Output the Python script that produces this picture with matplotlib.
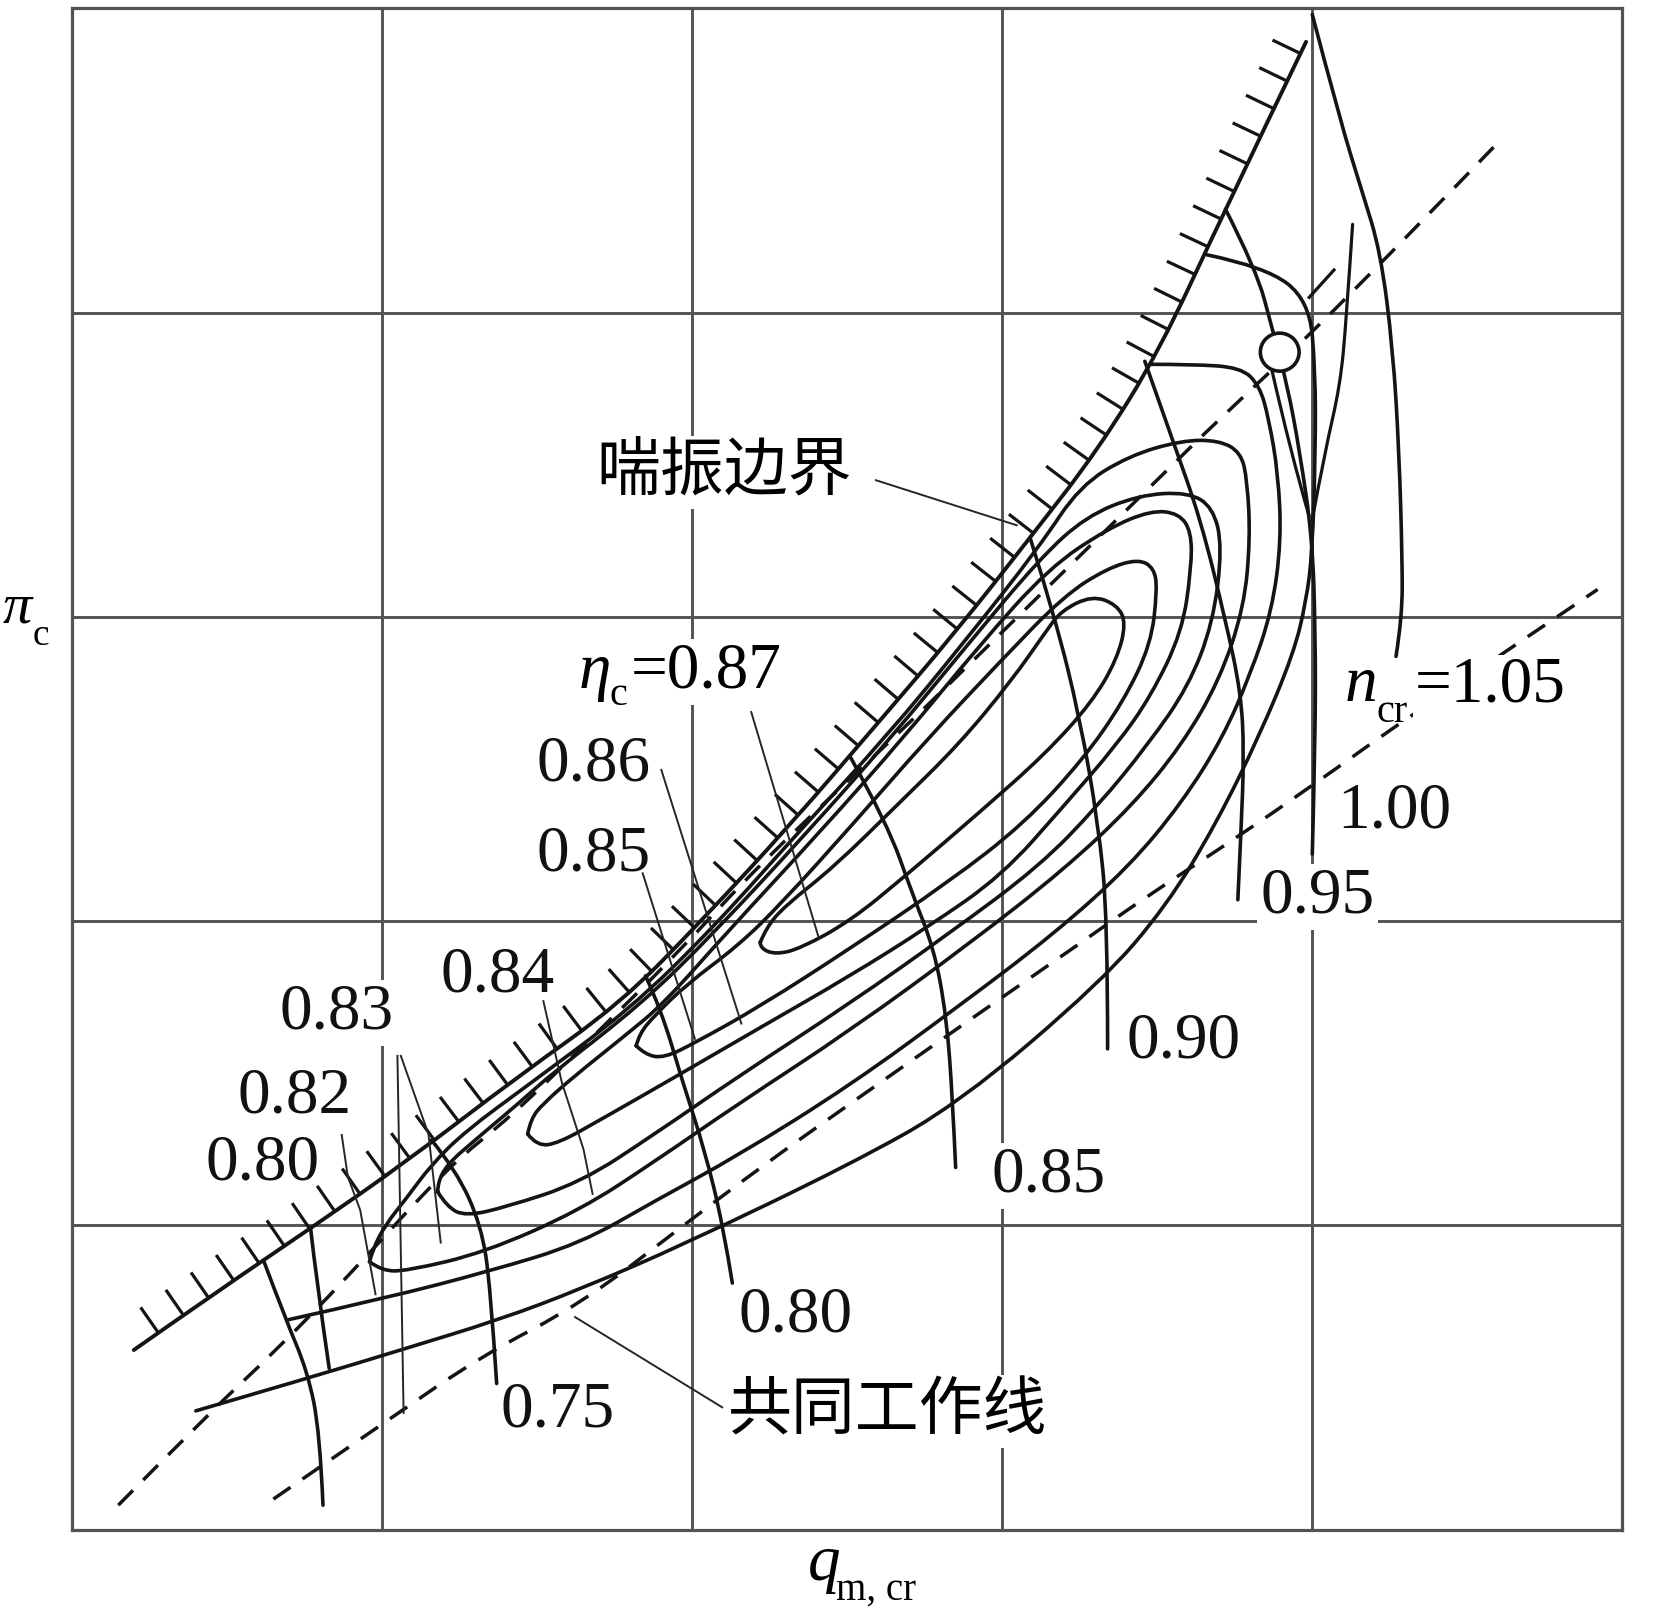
import numpy as np
import matplotlib
matplotlib.use("Agg")
import matplotlib.pyplot as plt
from matplotlib.path import Path
from matplotlib.patches import PathPatch, Ellipse
from matplotlib.collections import LineCollection

plt.rcParams["font.family"] = ["Liberation Serif", "DejaVu Serif"]

# positions are in grid cells: the map is a 5 x 5 grid with no numeric scale
surge_x = [0.20, 0.48, 0.77, 1.08, 1.44, 1.77, 2.03, 2.32, 2.59, 2.85, 3.09, 3.31, 3.51, 3.71, 3.98]
surge_y = [0.59, 0.79, 0.99, 1.21, 1.49, 1.73, 2.00, 2.32, 2.64, 2.95, 3.26, 3.55, 3.88, 4.32, 4.89]

# speed lines n_cr
low1_x = [0.62, 0.69, 0.76, 0.80, 0.81]
low1_y = [0.88, 0.69, 0.52, 0.32, 0.08]
low2_x = [0.77, 0.79, 0.83]
low2_y = [0.99, 0.81, 0.53]
n075_x = [1.16, 1.24, 1.32, 1.35, 1.37]
n075_y = [1.28, 1.18, 1.00, 0.80, 0.48]
n080_x = [1.85, 1.90, 1.97, 2.04, 2.10, 2.13]
n080_y = [1.82, 1.71, 1.47, 1.25, 1.00, 0.81]
n085_x = [2.51, 2.63, 2.71, 2.78, 2.82, 2.84, 2.85]
n085_y = [2.54, 2.32, 2.09, 1.91, 1.69, 1.42, 1.19]
n090_x = [3.09, 3.17, 3.25, 3.31, 3.34, 3.34]
n090_y = [3.26, 3.00, 2.67, 2.32, 2.01, 1.58]
n095_x = [3.46, 3.55, 3.64, 3.72, 3.77, 3.78, 3.77, 3.76]
n095_y = [3.84, 3.58, 3.32, 2.99, 2.75, 2.55, 2.29, 2.07]
n100_x = [3.72, 3.82, 3.87, 3.92, 3.96, 4.00, 4.01, 4.01, 4.00]
n100_y = [4.34, 4.14, 3.95, 3.76, 3.54, 3.26, 2.95, 2.60, 2.22]
n105_x = [4.00, 4.09, 4.16, 4.22, 4.26, 4.28, 4.29, 4.29, 4.27]
n105_y = [4.98, 4.63, 4.40, 4.20, 3.88, 3.54, 3.19, 3.00, 2.87]

# efficiency contours eta_c
eta87_x = [2.22, 2.24, 2.30, 2.46, 2.66, 2.86, 3.03, 3.14, 3.19, 3.29, 3.37, 3.40, 3.37, 3.29, 3.14, 2.93, 2.69, 2.51, 2.35, 2.27, 2.22, 2.22]
eta87_y = [1.93, 1.98, 2.05, 2.18, 2.38, 2.58, 2.79, 2.95, 3.02, 3.07, 3.04, 2.98, 2.86, 2.72, 2.55, 2.36, 2.15, 2.00, 1.91, 1.89, 1.91, 1.93]
eta86_x = [1.82, 1.83, 1.88, 1.98, 2.15, 2.29, 2.52, 2.76, 3.00, 3.20, 3.34, 3.44, 3.49, 3.50, 3.48, 3.39, 3.26, 3.07, 2.83, 2.51, 2.22, 2.01, 1.91, 1.85, 1.82]
eta86_y = [1.59, 1.63, 1.69, 1.79, 1.92, 2.06, 2.32, 2.60, 2.86, 3.07, 3.16, 3.19, 3.16, 3.09, 2.91, 2.72, 2.53, 2.32, 2.13, 1.91, 1.72, 1.60, 1.55, 1.56, 1.59]
eta85_x = [1.47, 1.48, 1.52, 1.62, 1.78, 1.91, 2.11, 2.41, 2.68, 2.93, 3.15, 3.34, 3.48, 3.57, 3.61, 3.61, 3.58, 3.48, 3.37, 3.20, 3.00, 2.76, 2.51, 2.22, 1.95, 1.71, 1.57, 1.50, 1.47]
eta85_y = [1.30, 1.35, 1.40, 1.49, 1.62, 1.73, 1.96, 2.29, 2.60, 2.91, 3.16, 3.29, 3.35, 3.34, 3.28, 3.16, 2.95, 2.74, 2.58, 2.38, 2.15, 1.98, 1.82, 1.65, 1.49, 1.35, 1.27, 1.26, 1.30]
eta84_x = [1.18, 1.18, 1.21, 1.30, 1.44, 1.55, 1.84, 2.07, 2.37, 2.64, 2.89, 3.12, 3.27, 3.44, 3.60, 3.68, 3.71, 3.68, 3.60, 3.47, 3.31, 3.12, 2.83, 2.51, 2.15, 1.88, 1.64, 1.40, 1.27, 1.21, 1.18]
eta84_y = [1.11, 1.14, 1.20, 1.28, 1.40, 1.50, 1.73, 1.96, 2.29, 2.60, 2.91, 3.19, 3.33, 3.40, 3.41, 3.36, 3.23, 2.98, 2.77, 2.58, 2.38, 2.18, 1.96, 1.73, 1.49, 1.30, 1.14, 1.06, 1.03, 1.06, 1.11]
eta83_x = [0.96, 0.97, 1.01, 1.08, 1.16, 1.27, 1.47, 1.80, 2.07, 2.35, 2.63, 2.88, 3.12, 3.25, 3.41, 3.58, 3.70, 3.77, 3.79, 3.80, 3.78, 3.70, 3.58, 3.42, 3.20, 2.90, 2.51, 2.15, 1.88, 1.64, 1.33, 1.08, 1.00, 0.96]
eta83_y = [0.88, 0.92, 1.00, 1.09, 1.20, 1.31, 1.46, 1.71, 1.98, 2.30, 2.61, 2.92, 3.23, 3.43, 3.53, 3.58, 3.58, 3.54, 3.45, 3.26, 3.03, 2.79, 2.58, 2.38, 2.17, 1.93, 1.64, 1.40, 1.21, 1.05, 0.91, 0.85, 0.85, 0.88]
eta82_x = [3.48, 3.61, 3.77, 3.83, 3.86, 3.89, 3.90, 3.87, 3.80, 3.71, 3.58, 3.41, 3.17, 2.86, 2.51, 2.15, 1.88, 1.64, 1.35, 1.01, 0.70]
eta82_y = [3.83, 3.83, 3.82, 3.76, 3.65, 3.47, 3.25, 3.02, 2.81, 2.60, 2.39, 2.18, 1.96, 1.72, 1.46, 1.23, 1.08, 0.94, 0.85, 0.76, 0.69]
eta80_x = [3.66, 3.85, 3.99, 4.01, 4.01, 4.00, 3.98, 3.94, 3.83, 3.69, 3.53, 3.32, 2.86, 2.51, 1.98, 1.64, 1.38, 1.06, 0.77, 0.40]
eta80_y = [4.19, 4.15, 4.04, 3.81, 3.54, 3.21, 3.05, 2.88, 2.61, 2.32, 2.05, 1.80, 1.40, 1.20, 0.94, 0.79, 0.69, 0.59, 0.50, 0.39]

# working lines (dashed)
work_hi_x = [0.15, 0.45, 0.65, 0.89, 1.21, 1.42, 1.67, 1.95, 2.22, 2.68, 2.94, 3.20, 3.48, 3.71, 4.07, 4.60]
work_hi_y = [0.08, 0.39, 0.58, 0.83, 1.19, 1.36, 1.61, 1.89, 2.19, 2.63, 2.89, 3.15, 3.43, 3.66, 4.00, 4.56]
work_lo_x = [0.65, 1.02, 1.32, 1.64, 1.96, 2.22, 2.51, 2.93, 3.27, 3.45, 3.78, 4.09, 4.28, 4.92]
work_lo_y = [0.10, 0.36, 0.57, 0.74, 0.99, 1.19, 1.40, 1.70, 1.94, 2.07, 2.29, 2.51, 2.65, 3.09]

# design point and the short strokes around it
design_x, design_y = 3.895, 3.87
side_x = [4.13, 4.11, 4.09, 4.04, 4.00]
side_y = [4.29, 3.98, 3.76, 3.54, 3.32]
leg_x = [3.87, 3.93, 3.99]
leg_y = [3.81, 3.54, 3.33]
nick_x = [4.07, 3.99]
nick_y = [4.14, 4.05]

# leader lines
lead_surge = ([2.59, 3.05], [3.45, 3.30])
lead_work = ([2.10, 1.62], [0.40, 0.70])
lead87 = ([2.19, 2.41], [2.69, 1.94])
lead86 = ([1.90, 2.16], [2.50, 1.66])
lead85 = ([1.84, 2.01], [2.16, 1.61])
lead84 = ([1.52, 1.58, 1.65, 1.68], [1.74, 1.47, 1.25, 1.10])
lead83 = ([1.05, 1.07], [1.56, 0.38])
lead82 = ([1.06, 1.15, 1.19], [1.56, 1.30, 0.94])
lead80 = ([0.87, 0.89, 0.93, 0.98], [1.30, 1.16, 1.05, 0.77])

speed_labels = ["0.75", "0.80", "0.85", "0.90", "0.95", "1.00"]
speed_lab_x = [1.384, 2.150, 2.966, 3.401, 3.833, 4.082]
speed_lab_y = [0.340, 0.652, 1.110, 1.550, 2.028, 2.306]
speed_lab_box = [False, False, True, False, True, False]
eta_labels = ["0.86", "0.85", "0.84", "0.83", "0.82", "0.80"]
eta_lab_x = [1.497, 1.497, 1.190, 0.670, 0.534, 0.432]
eta_lab_y = [2.462, 2.167, 1.768, 1.647, 1.370, 1.151]
eta_lab_box = [False, False, False, True, False, False]

INK = "#141414"
GRID = "#535353"

fig = plt.figure(figsize=(16.54, 16.09), dpi=100)
ax = fig.add_axes([0.0434, 0.0494, 0.9375, 0.9454])
ax.set_xlim(0, 5)
ax.set_ylim(0, 5)
ax.set_xticks([])
ax.set_yticks([])
for sp in ax.spines.values():
    sp.set_color(GRID)
    sp.set_linewidth(2.3)
for k in range(1, 5):
    ax.axvline(k, color=GRID, lw=2.1, zorder=1)
    ax.axhline(k, color=GRID, lw=2.1, zorder=1)


def smooth_path(xs, ys):
    pts = np.column_stack([xs, ys]).astype(float)
    n = len(pts)
    verts = [pts[0]]
    codes = [Path.MOVETO]
    if n == 2:
        verts.append(pts[1])
        codes.append(Path.LINETO)
    else:
        for i in range(1, n - 1):
            end = pts[n - 1] if i == n - 2 else (pts[i] + pts[i + 1]) / 2
            verts += [pts[i], end]
            codes += [Path.CURVE3, Path.CURVE3]
    return Path(verts, codes)


def curve(xs, ys, lw=2.6, dashed=False, z=3):
    path = smooth_path(xs, ys)
    if dashed:
        patch = PathPatch(path, fill=False, ec=INK, lw=lw, ls=(0, (6.0, 4.2)),
                          capstyle="butt", zorder=z)
    else:
        patch = PathPatch(path, fill=False, ec=INK, lw=lw, capstyle="round",
                          joinstyle="round", zorder=z)
    ax.add_patch(patch)
    return path


# surge line with hatching on the unstable side
surge_path = curve(surge_x, surge_y, lw=2.8)
poly = ax.transData.transform_path(surge_path).to_polygons(closed_only=False)[0]
seg = np.hypot(np.diff(poly[:, 0]), np.diff(poly[:, 1]))
s = np.concatenate([[0.0], np.cumsum(seg)])
pos = np.arange(30.0, s[-1] - 12.0, 30.6)
bx = np.interp(pos, s, poly[:, 0])
by = np.interp(pos, s, poly[:, 1])
tx = np.interp(pos + 4, s, poly[:, 0]) - np.interp(pos - 4, s, poly[:, 0])
ty = np.interp(pos + 4, s, poly[:, 1]) - np.interp(pos - 4, s, poly[:, 1])
nn = np.hypot(tx, ty)
tx, ty = tx / nn, ty / nn
inv = ax.transData.inverted()
p0 = inv.transform(np.column_stack([bx, by]))
p1 = inv.transform(np.column_stack([bx - ty * 31, by + tx * 31]))
ax.add_collection(LineCollection(np.stack([p0, p1], axis=1), colors=INK,
                                 linewidths=2.3, zorder=3))

for xs, ys in [(low1_x, low1_y), (low2_x, low2_y), (n075_x, n075_y), (n080_x, n080_y),
               (n085_x, n085_y), (n090_x, n090_y), (n095_x, n095_y), (n100_x, n100_y),
               (n105_x, n105_y)]:
    curve(xs, ys)

for xs, ys in [(eta87_x, eta87_y), (eta86_x, eta86_y), (eta85_x, eta85_y), (eta84_x, eta84_y),
               (eta83_x, eta83_y), (eta82_x, eta82_y), (eta80_x, eta80_y)]:
    curve(xs, ys)

curve(work_hi_x, work_hi_y, lw=2.5, dashed=True)
curve(work_lo_x, work_lo_y, lw=2.5, dashed=True)

curve(side_x, side_y, lw=2.3)
curve(leg_x, leg_y, lw=2.3)
ax.plot(nick_x, nick_y, color=INK, lw=2.3, zorder=3)
ax.add_patch(Ellipse((design_x, design_y), 0.125, 0.125, fc="white", ec=INK,
                     lw=2.6, zorder=4))

for xs, ys in [lead_surge, lead_work, lead87, lead86, lead85, lead84, lead83, lead82, lead80]:
    ax.plot(xs, ys, color="#262626", lw=1.4, zorder=3, solid_capstyle="butt")

white = dict(boxstyle="square,pad=0.05", fc="white", ec="none")
for txt, x, y, b in zip(speed_labels, speed_lab_x, speed_lab_y, speed_lab_box):
    ax.text(x, y, txt, fontsize=47, color="#111111", ha="left", va="baseline",
            zorder=2, bbox=white if b else None)
for txt, x, y, b in zip(eta_labels, eta_lab_x, eta_lab_y, eta_lab_box):
    ax.text(x, y, txt, fontsize=47, color="#111111", ha="left", va="baseline",
            zorder=2, bbox=white if b else None)

# eta_c = 0.87
ax.text(1.633, 2.767, "η", fontsize=47, style="italic", ha="left", va="baseline", zorder=2)
ax.text(1.735, 2.711, "c", fontsize=29, ha="left", va="baseline", zorder=2)
ax.text(1.803, 2.767, "=0.87", fontsize=47, ha="left", va="baseline", zorder=2, bbox=white)
# n_cr = 1.05 (its white ground breaks the working line, as in the print)
ax.text(4.105, 2.722, "n", fontsize=47, style="italic", ha="left", va="baseline", zorder=2)
ax.text(4.207, 2.653, "cr", fontsize=29, ha="left", va="baseline", zorder=2)
ax.text(4.330, 2.722, "=1.05", fontsize=47, ha="left", va="baseline", zorder=5,
        bbox=dict(boxstyle="square,pad=0.02", fc="white", ec="none"))

cjk = ["Noto Sans CJK SC", "DejaVu Sans"]
ax.text(1.690, 3.474, "喘振边界", fontsize=46, family=cjk, ha="left", va="center",
        zorder=2, bbox=white)
ax.text(2.116, 0.388, "共同工作线", fontsize=46, family=cjk, ha="left", va="center",
        zorder=2, bbox=white)

# axis names sit outside the frame
ax.text(-0.224, 2.982, "π", fontsize=42, style="italic", ha="left", va="baseline")
ax.text(-0.126, 2.907, "c", fontsize=27, ha="left", va="baseline")
ax.text(2.374, -0.166, "q", fontsize=47, style="italic", ha="left", va="baseline")
ax.text(2.463, -0.232, "m, cr", fontsize=28, ha="left", va="baseline")

fig.savefig("out.png", dpi=100, facecolor="white")
